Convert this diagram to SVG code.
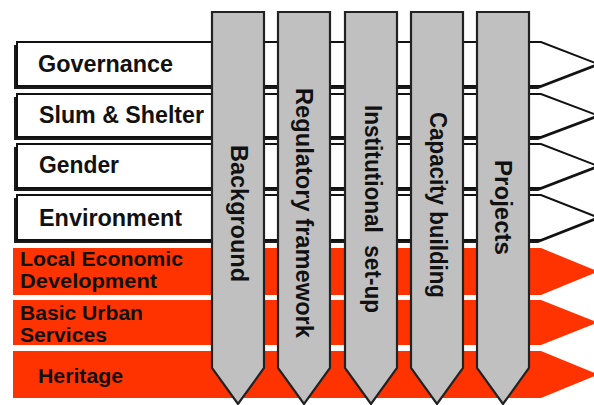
<svg xmlns="http://www.w3.org/2000/svg" width="594" height="405" viewBox="0 0 594 405">
  <style>
    .lbl { font-family: "Liberation Sans", Arial, sans-serif; font-weight: bold; fill: #111; }
    .row-w { fill: #ffffff; stroke: #111; stroke-width: 2; stroke-linejoin: miter; }
    .row-shadow { fill: #1a1a1a; }
    .row-o { fill: #ff3300; }
    .col { fill: #c0c0c0; stroke: #222; stroke-width: 2.2; stroke-linejoin: miter; }
    .col-shadow { fill: #333; }
  </style>

  <rect width="594" height="405" fill="#ffffff"/>

  <!-- Horizontal themes (white rows with drop shadow) -->
  <g id="row-governance">
    <polygon class="row-shadow" transform="translate(-3,3)" points="17,42 541,42 598,64 541,86 17,86"/>
    <polygon class="row-w" points="17,42 541,42 598,64 541,86 17,86"/>
    <text class="lbl" x="38" y="72" font-size="23" textLength="135" lengthAdjust="spacingAndGlyphs">Governance</text>
  </g>
  <g id="row-slum-shelter">
    <polygon class="row-shadow" transform="translate(-3,3)" points="17,94 541,94 598,115.5 541,137 17,137"/>
    <polygon class="row-w" points="17,94 541,94 598,115.5 541,137 17,137"/>
    <text class="lbl" x="39" y="123" font-size="23" textLength="165" lengthAdjust="spacingAndGlyphs">Slum &amp; Shelter</text>
  </g>
  <g id="row-gender">
    <polygon class="row-shadow" transform="translate(-3,3)" points="17,144 541,144 598,166 541,188 17,188"/>
    <polygon class="row-w" points="17,144 541,144 598,166 541,188 17,188"/>
    <text class="lbl" x="39" y="173" font-size="23" textLength="80" lengthAdjust="spacingAndGlyphs">Gender</text>
  </g>
  <g id="row-environment">
    <polygon class="row-shadow" transform="translate(-3,3)" points="17,195 541,195 598,217.5 541,240 17,240"/>
    <polygon class="row-w" points="17,195 541,195 598,217.5 541,240 17,240"/>
    <text class="lbl" x="39" y="226" font-size="23" textLength="143" lengthAdjust="spacingAndGlyphs">Environment</text>
  </g>

  <!-- Horizontal themes (orange rows) -->
  <g id="row-local-economic">
    <polygon class="row-o" points="13,248 541,248 598,271.5 541,295 13,295"/>
    <text class="lbl" x="20" y="266" font-size="20" textLength="163" lengthAdjust="spacingAndGlyphs">Local Economic</text>
    <text class="lbl" x="20" y="288" font-size="20" textLength="137" lengthAdjust="spacingAndGlyphs">Development</text>
  </g>
  <g id="row-basic-urban">
    <polygon class="row-o" points="13,300 541,300 598,322.5 541,345 13,345"/>
    <text class="lbl" x="20" y="320" font-size="20" textLength="123" lengthAdjust="spacingAndGlyphs">Basic Urban</text>
    <text class="lbl" x="20" y="342" font-size="20" textLength="87" lengthAdjust="spacingAndGlyphs">Services</text>
  </g>
  <g id="row-heritage">
    <polygon class="row-o" points="13,351 541,351 598,374.5 541,398 13,398"/>
    <text class="lbl" x="38" y="383" font-size="21" textLength="85" lengthAdjust="spacingAndGlyphs">Heritage</text>
  </g>

  <!-- Vertical pillars -->
  <g id="col-background">
    <polygon class="col" points="212,12 264,12 264,368 238,404 212,368"/>
    <text class="lbl" font-size="23" transform="translate(231,145) rotate(90)" textLength="137" lengthAdjust="spacingAndGlyphs">Background</text>
  </g>
  <g id="col-regulatory">
    <polygon class="col" points="278,12 330,12 330,368 304,404 278,368"/>
    <text class="lbl" font-size="23" transform="translate(296,88) rotate(90)" textLength="250" lengthAdjust="spacingAndGlyphs">Regulatory framework</text>
  </g>
  <g id="col-institutional">
    <polygon class="col" points="345,12 397,12 397,368 371,404 345,368"/>
    <text class="lbl" font-size="23" transform="translate(365,105) rotate(90)" textLength="208" lengthAdjust="spacingAndGlyphs" xml:space="preserve">Institutional  set-up</text>
  </g>
  <g id="col-capacity">
    <polygon class="col" points="411,12 463,12 463,368 437,404 411,368"/>
    <text class="lbl" font-size="23" transform="translate(430,112) rotate(90)" textLength="186" lengthAdjust="spacingAndGlyphs">Capacity building</text>
  </g>
  <g id="col-projects">
    <polygon class="col" points="477,12 529,12 529,368 503,404 477,368"/>
    <text class="lbl" font-size="23" transform="translate(495,160) rotate(90)" textLength="95" lengthAdjust="spacingAndGlyphs">Projects</text>
  </g>
</svg>
